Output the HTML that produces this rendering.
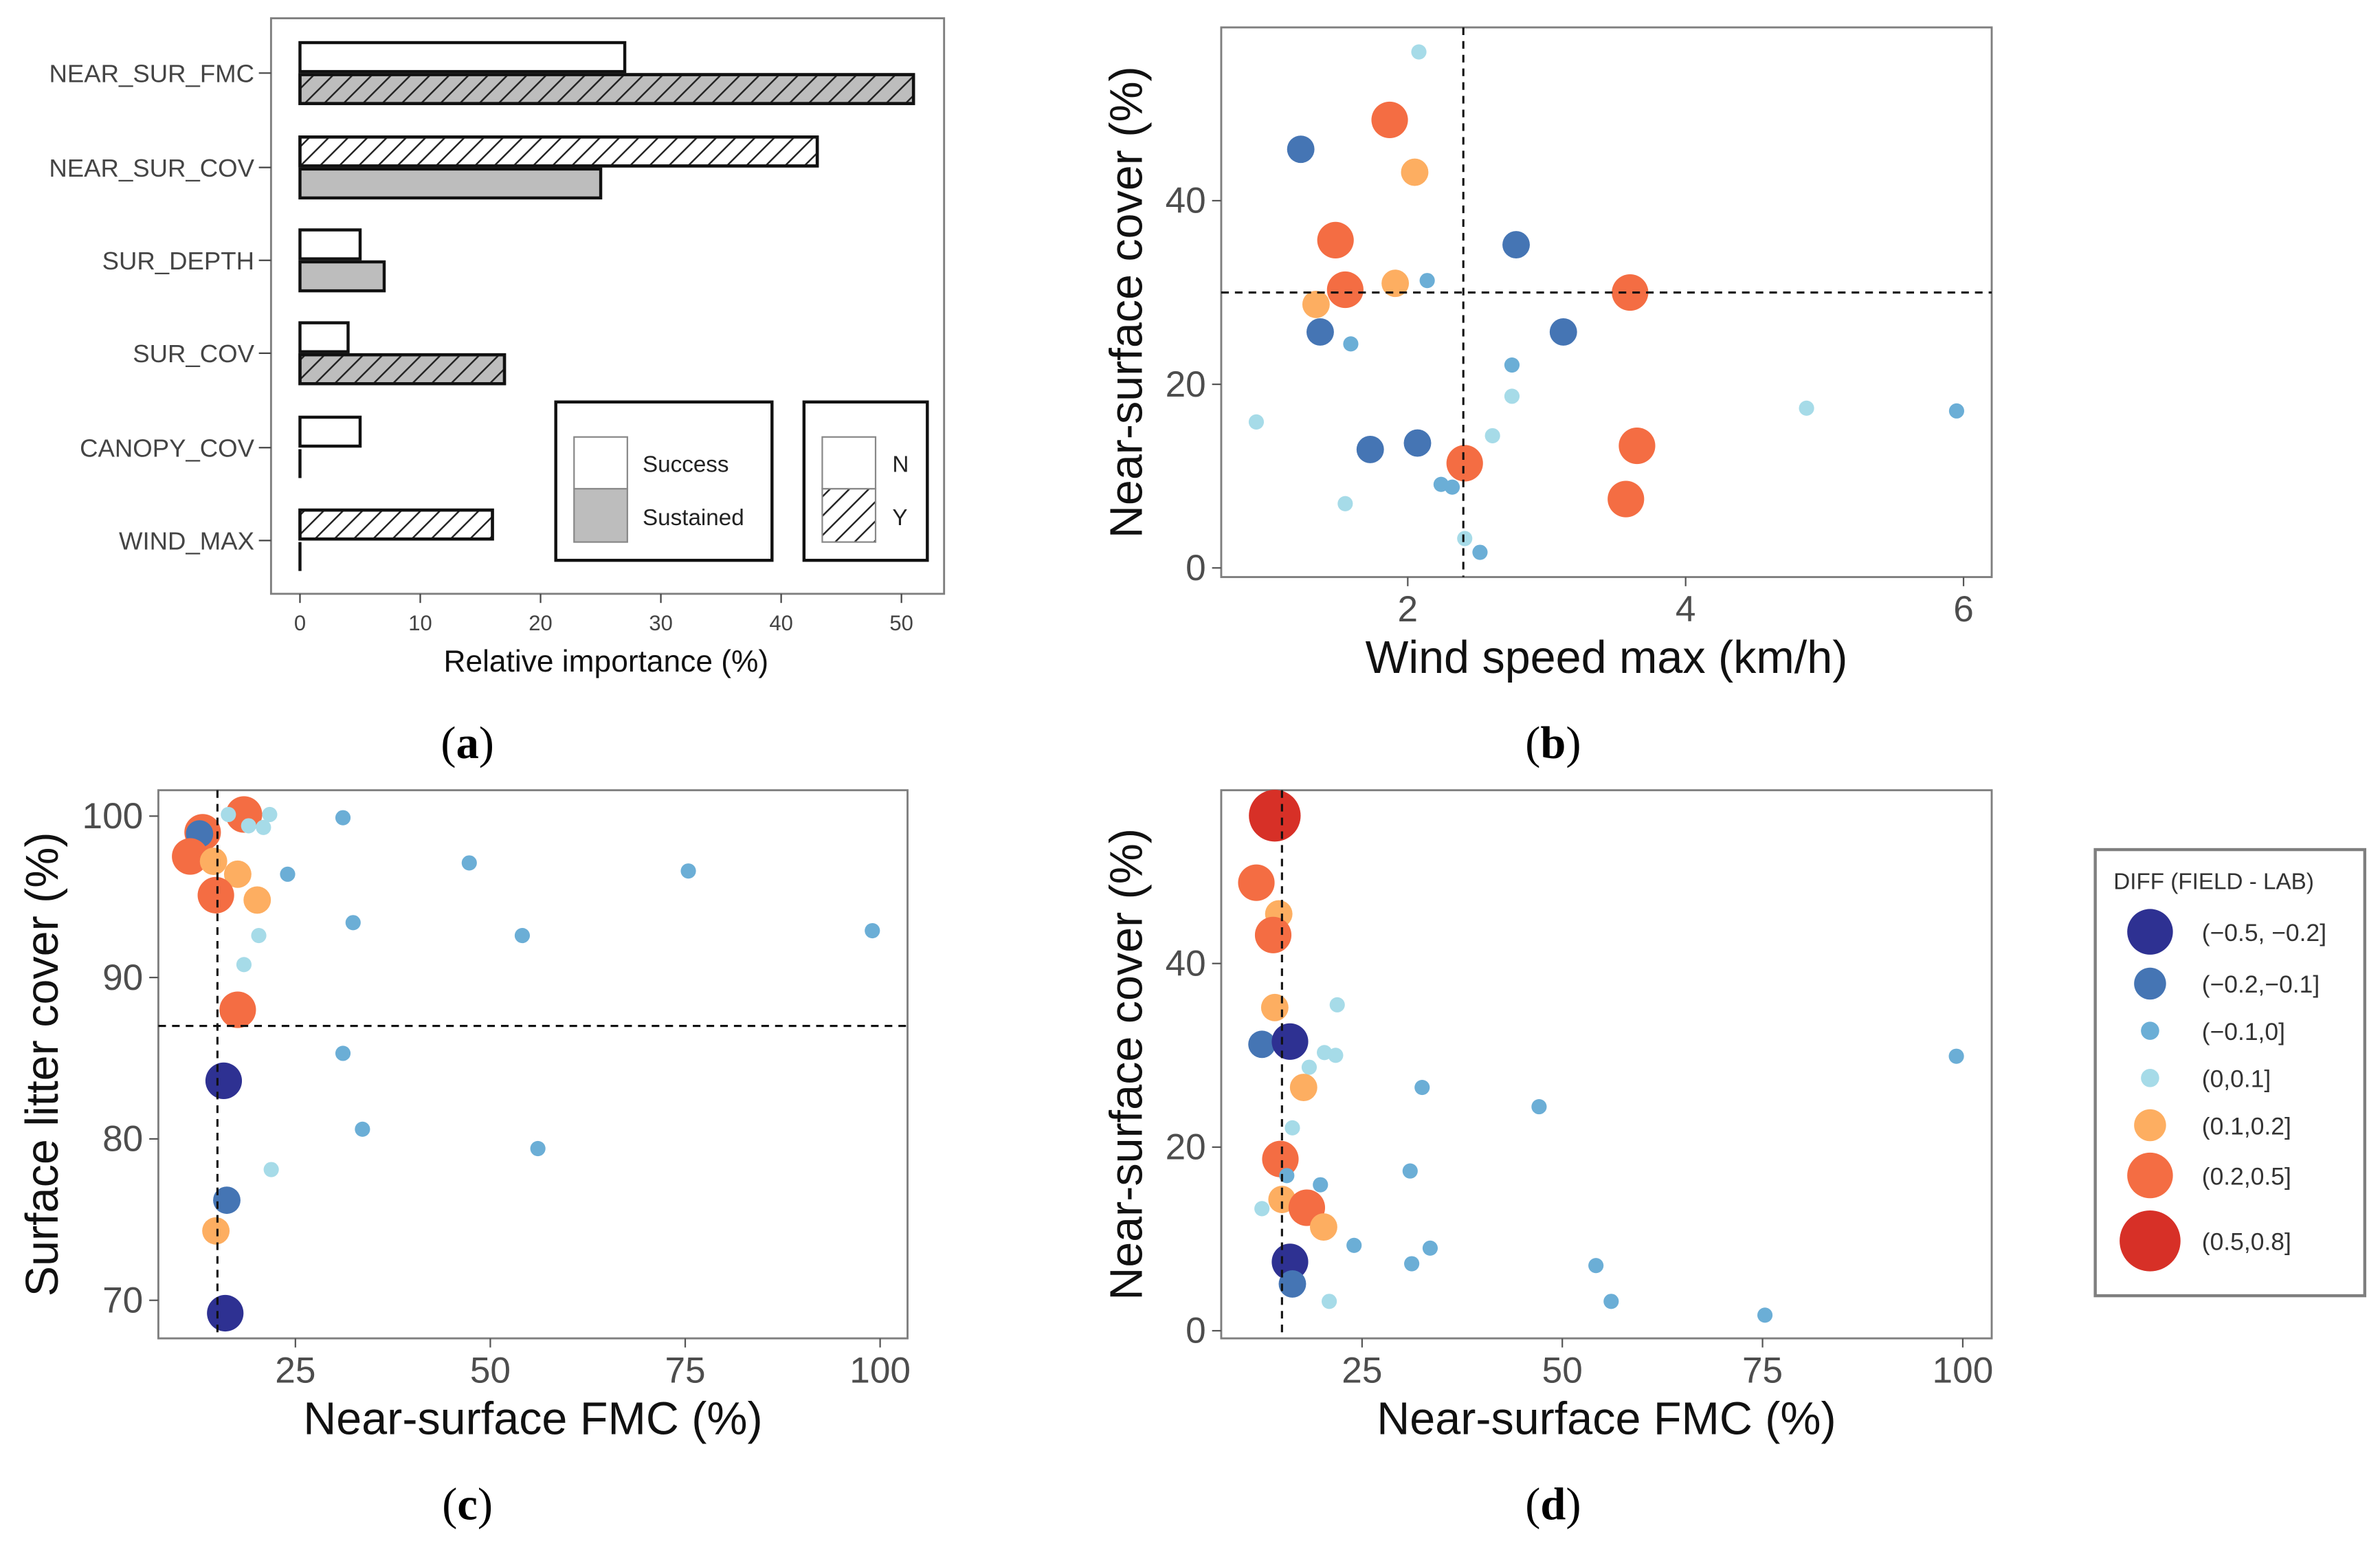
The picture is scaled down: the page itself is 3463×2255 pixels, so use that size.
<!DOCTYPE html>
<html><head><meta charset="utf-8"><style>
html,body{margin:0;padding:0;background:#fff;}
svg{display:block;}
text{font-family:"Liberation Sans",sans-serif;}
</style></head><body>
<svg id="root" width="3463" height="2255" viewBox="0 0 1563 1018" preserveAspectRatio="none" xmlns="http://www.w3.org/2000/svg">
<defs>
<pattern id="hatch" patternUnits="userSpaceOnUse" width="9" height="9" patternTransform="rotate(45)">
<line x1="0" y1="0" x2="0" y2="9" stroke="#222" stroke-width="2.2"/>
</pattern>
</defs>
<rect width="1563" height="1018" fill="#fff"/>
<g id="pa"></g>
<g id="pb"></g>
<g id="pc"></g>
<g id="pd"></g>
<g id="leg"></g>
<g font-size="30" text-anchor="middle" fill="#000">
<text x="307" y="498" style="font-family:'Liberation Serif',serif">(<tspan font-weight="bold">a</tspan>)</text>
<text x="1020" y="498" style="font-family:'Liberation Serif',serif">(<tspan font-weight="bold">b</tspan>)</text>
<text x="307" y="998" style="font-family:'Liberation Serif',serif">(<tspan font-weight="bold">c</tspan>)</text>
<text x="1020" y="998" style="font-family:'Liberation Serif',serif">(<tspan font-weight="bold">d</tspan>)</text>
</g>
</svg>
<script>
// ---- Panel A data ----
const aCategories = ["NEAR_SUR_FMC","NEAR_SUR_COV","SUR_DEPTH","SUR_COV","CANOPY_COV","WIND_MAX"];
const aSuccess = [27,43,5,4,5,16];
const aSuccessHatch = [false,true,false,false,false,true];
const aSustained = [51,25,7,17,0,0];
const aSustainedHatch = [true,false,false,true,false,false];
const aTicks = [0,10,20,30,40,50];

// ---- Scatter data ----
const classColors = ["#2e3192","#4575b4","#6baed6","#a6dbe8","#fdae61","#f46d43","#d73027"];
const classLabels = ["(\u22120.5, \u22120.2]","(\u22120.2,\u22120.1]","(\u22120.1,0]","(0,0.1]","(0.1,0.2]","(0.2,0.5]","(0.5,0.8]"];
const classRadius = [12,9,5,5,9,12,17];

const bX = [2.08,1.23,1.87,2.05,1.48,2.78,2.14,1.91,1.55,3.6,1.34,1.37,3.12,1.59,2.75,2.75,4.87,5.95,0.91,2.61,3.65,1.73,2.07,2.24,2.32,2.41,1.55,3.57,2.41,2.52];
const bY = [56.2,45.6,48.8,43.1,35.7,35.2,31.3,31.0,30.3,30.0,28.7,25.7,25.7,24.4,22.1,18.7,17.4,17.1,15.9,14.4,13.3,12.9,13.6,9.1,8.8,11.4,7.0,7.5,3.2,1.7];
const bC = [3,1,5,4,5,1,2,4,5,5,4,1,1,2,2,3,3,2,3,3,5,1,1,2,2,5,3,5,3,2];
const bXTicks = [2,4,6];
const bYTicks = [0,20,40];

const cX = [13.1,12.7,18.4,16.4,21.7,20.9,19,31.1,11.5,14.5,17.6,24,47.3,75.4,14.8,20.1,32.4,54.1,99,20.3,18.4,17.6,31.1,15.8,33.6,56.1,21.9,16.2,14.8,16];
const cY = [99.0,98.9,100.1,100.1,100.1,99.3,99.4,99.9,97.5,97.2,96.4,96.4,97.1,96.6,95.1,94.8,93.4,92.6,92.9,92.6,90.8,88.0,85.3,83.6,80.6,79.4,78.1,76.2,74.3,69.2];
const cC = [5,1,5,3,3,3,3,2,5,4,4,2,2,2,5,4,2,2,2,3,3,5,2,0,2,2,3,1,4,0];
const cXTicks = [25,50,75,100];
const cYTicks = [70,80,90,100];

const dX = [14.1,11.8,14.6,13.9,14.1,21.9,12.5,16,20.3,21.7,18.4,17.7,32.5,47.1,99.2,16.3,14.8,15.6,19.8,31,15,12.5,18.1,20.2,24,33.5,16,31.2,54.2,16.3,20.9,56.1,75.3];
const dY = [56.1,48.8,45.4,43.1,35.2,35.5,31.2,31.5,30.3,30.0,28.7,26.5,26.5,24.4,29.9,22.1,18.7,16.9,15.9,17.4,14.3,13.3,13.4,11.3,9.3,9.0,7.5,7.3,7.1,5.1,3.2,3.2,1.7];
const dC = [6,5,4,5,4,3,1,0,3,3,3,4,2,2,2,3,5,2,2,2,4,3,5,4,2,2,0,2,2,1,3,2,2];
const dXTicks = [25,50,75,100];
const dYTicks = [0,20,40];

const NS = "http://www.w3.org/2000/svg";
function mk(parent, tag, attrs, txt){
  const e = document.createElementNS(NS, tag);
  for (const k in attrs) e.setAttribute(k, attrs[k]);
  if (txt !== undefined) e.textContent = txt;
  parent.appendChild(e);
  return e;
}

// ===== Panel A =====
(function(){
  const g = document.getElementById('pa');
  const x = v => 197 + v*7.9;
  const yc = [48,110,171,232,294,355];
  const f = mk(g,'rect',{x:178,y:12,width:442,height:378,fill:'none',stroke:'#7f7f7f','stroke-width':1.3});
   
  aCategories.forEach((c,i)=>{
    const t = mk(g,'text',{x:167,y:yc[i]+6,'text-anchor':'end','font-size':16.5,fill:'#444'},c);
     
    mk(g,'line',{x1:170,x2:178,y1:yc[i],y2:yc[i],stroke:'#444','stroke-width':1});
    const w1 = x(aSuccess[i]) - x(0);
    if (w1 > 0) {
      const r = mk(g,'rect',{x:x(0),y:yc[i]-20,width:w1,height:19,fill:'#fff',stroke:'#111','stroke-width':2});
       
      if (aSuccessHatch[i]) mk(g,'rect',{x:x(0),y:yc[i]-20,width:w1,height:19,fill:'url(#hatch)',stroke:'#111','stroke-width':2});
    } else mk(g,'line',{x1:x(0),x2:x(0),y1:yc[i]-20,y2:yc[i]-1,stroke:'#111','stroke-width':2});
    const w2 = x(aSustained[i]) - x(0);
    if (w2 > 0) {
      const r = mk(g,'rect',{x:x(0),y:yc[i]+1,width:w2,height:19,fill:'#bdbdbd',stroke:'#111','stroke-width':2});
       
      if (aSustainedHatch[i]) mk(g,'rect',{x:x(0),y:yc[i]+1,width:w2,height:19,fill:'url(#hatch)',stroke:'#111','stroke-width':2});
    } else {
      const l = mk(g,'line',{x1:x(0),x2:x(0),y1:yc[i]+1,y2:yc[i]+20,stroke:'#111','stroke-width':2});
       
    }
  });
  aTicks.forEach(v=>{
    mk(g,'line',{x1:x(v),x2:x(v),y1:390,y2:396,stroke:'#444'});
    const t = mk(g,'text',{x:x(v),y:414,'text-anchor':'middle','font-size':14,fill:'#444'},v);
     
  });
  const xt = mk(g,'text',{x:398,y:441,'text-anchor':'middle','font-size':20,fill:'#111'},'Relative importance (%)');
   
  const l1 = mk(g,'g',{});
   
  mk(l1,'rect',{x:365,y:264,width:142,height:104,fill:'#fff',stroke:'#111','stroke-width':2});
  mk(l1,'rect',{x:377,y:287,width:35,height:34,fill:'#fff',stroke:'#888'});
  mk(l1,'rect',{x:377,y:321,width:35,height:35,fill:'#bdbdbd',stroke:'#888'});
  mk(l1,'text',{x:422,y:310,'font-size':15,fill:'#222'},'Success');
  mk(l1,'text',{x:422,y:345,'font-size':15,fill:'#222'},'Sustained');
  const l2 = mk(g,'g',{});
   
  mk(l2,'rect',{x:528,y:264,width:81,height:104,fill:'#fff',stroke:'#111','stroke-width':2});
  mk(l2,'rect',{x:540,y:287,width:35,height:34,fill:'#fff',stroke:'#888'});
  mk(l2,'rect',{x:540,y:321,width:35,height:35,fill:'url(#hatch)',stroke:'#888'});
  mk(l2,'text',{x:586,y:310,'font-size':15,fill:'#222'},'N');
  mk(l2,'text',{x:586,y:345,'font-size':15,fill:'#222'},'Y');
})();

// ===== Scatter helper =====
function scatter(id, box, xs, ys, xT, yT, X, Y, C, vline, hline, xtitle, ytitle, ytx){
  const g = document.getElementById(id);
  const f = mk(g,'rect',{x:box[0],y:box[1],width:box[2]-box[0],height:box[3]-box[1],fill:'#fff',stroke:'#7f7f7f','stroke-width':1.3});
   
  xT.forEach(v=>{
    mk(g,'line',{x1:xs(v),x2:xs(v),y1:box[3],y2:box[3]+6,stroke:'#555'});
    const t = mk(g,'text',{x:xs(v),y:box[3]+29,'text-anchor':'middle','font-size':24,fill:'#4d4d4d'},v);
     
  });
  yT.forEach(v=>{
    mk(g,'line',{x1:box[0]-6,x2:box[0],y1:ys(v),y2:ys(v),stroke:'#555'});
    const t = mk(g,'text',{x:box[0]-10,y:ys(v)+8,'text-anchor':'end','font-size':24,fill:'#4d4d4d'},v);
     
  });
  X.forEach((xv,i)=>{
    const c = mk(g,'circle',{cx:xs(xv),cy:ys(Y[i]),r:classRadius[C[i]],fill:classColors[C[i]]});
     
  });
  if (vline !== null) {
    const l = mk(g,'line',{x1:xs(vline),x2:xs(vline),y1:box[1],y2:box[3],stroke:'#111','stroke-width':1.4,'stroke-dasharray':'5,4'});
     
  }
  if (hline !== null) {
    const l = mk(g,'line',{x1:box[0],x2:box[2],y1:ys(hline),y2:ys(hline),stroke:'#111','stroke-width':1.4,'stroke-dasharray':'5,4'});
     
  }
  const cx = (box[0]+box[2])/2;
  const xt = mk(g,'text',{x:cx,y:box[3]+63,'text-anchor':'middle','font-size':30,fill:'#111'},xtitle);
   
  const cy = (box[1]+box[3])/2;
  const yt = mk(g,'text',{x:ytx,y:cy,'text-anchor':'middle','font-size':30,fill:'#111',transform:`rotate(-90 ${ytx} ${cy})`},ytitle);
   
}

scatter('pb',[802,18,1308,379], v=>742+v*91.25, v=>373-v*6.03, bXTicks,bYTicks,bX,bY,bC,2.4,30,'Wind speed max (km/h)','Near-surface cover (%)',750);
scatter('pc',[104,519,596,879], v=>66+v*5.12, v=>536+(100-v)*10.6, cXTicks,cYTicks,cX,cY,cC,15,87,'Near-surface FMC (%)','Surface litter cover (%)',38);
scatter('pd',[802,519,1308,879], v=>763+v*5.26, v=>874-v*6.03, dXTicks,dYTicks,dX,dY,dC,15,null,'Near-surface FMC (%)','Near-surface cover (%)',750);

// ===== Legend =====
(function(){
  const g = document.getElementById('leg');
  mk(g,'rect',{x:1376,y:558,width:177,height:293,fill:'#fff',stroke:'#7f7f7f','stroke-width':2});
  const t = mk(g,'text',{x:1388,y:584,'font-size':15,fill:'#333'},'DIFF (FIELD - LAB)');
   
  const ly = [612,646,677,708,739,772,815];
  const lr = [15,10.5,6,6,10.5,15,20];
  classLabels.forEach((lab,i)=>{
    const e = mk(g,'g',{});
     
    mk(e,'circle',{cx:1412,cy:ly[i],r:lr[i],fill:classColors[i]});
    mk(e,'text',{x:1446,y:ly[i]+6,'font-size':16,fill:'#333'},lab);
  });
})();
</script>
</body></html>
